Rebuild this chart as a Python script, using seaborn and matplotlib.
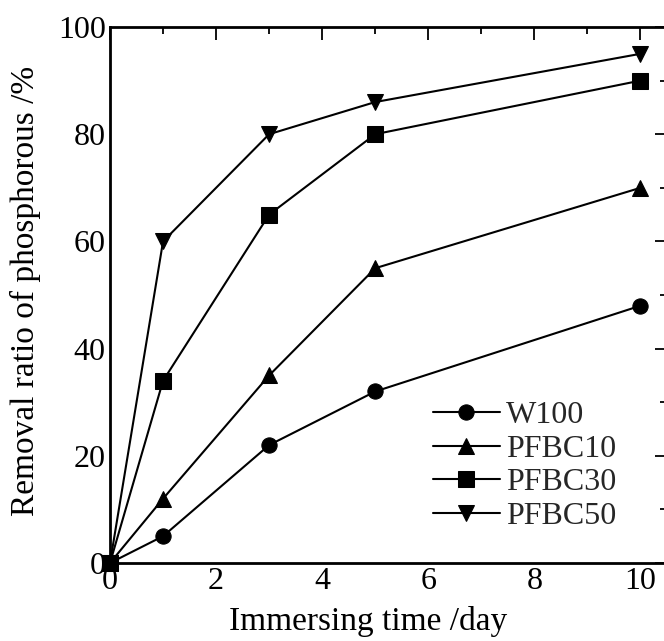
import matplotlib
matplotlib.use("Agg")
import matplotlib.pyplot as plt
import seaborn as sns
import pandas as pd
from matplotlib.ticker import MultipleLocator

days = [0, 1, 3, 5, 10]
series_names = ["W100", "PFBC10", "PFBC30", "PFBC50"]
w100 = [0, 5, 22, 32, 48]
pfbc10 = [0, 12, 35, 55, 70]
pfbc30 = [0, 34, 65, 80, 90]
pfbc50 = [0, 60, 80, 86, 95]

rows = []
for name, vals in zip(series_names, [w100, pfbc10, pfbc30, pfbc50]):
    for d, v in zip(days, vals):
        rows.append({"day": d, "ratio": v, "series": name})
df = pd.DataFrame(rows)

sns.set_theme(style="white")
plt.rcParams["font.family"] = ["Liberation Serif", "DejaVu Serif"]
plt.rcParams["mathtext.fontset"] = "stix"

fig = plt.figure(figsize=(6.64, 6.41), dpi=100)
ax = fig.add_axes([110/664, 1 - 563/641, (667-110)/664, (563-27)/641])

markers = {"W100": "o", "PFBC10": "^", "PFBC30": "s", "PFBC50": "v"}
sns.lineplot(data=df, x="day", y="ratio", hue="series", style="series",
             hue_order=series_names, style_order=series_names,
             palette=["black"] * 4, markers=markers, dashes=False,
             markersize=11, linewidth=1.5, markeredgecolor="black",
             ax=ax, clip_on=False, zorder=3)

ax.set_xlim(0, 10.5)
ax.set_ylim(0, 100)
ax.xaxis.set_major_locator(MultipleLocator(2))
ax.xaxis.set_minor_locator(MultipleLocator(1))
ax.yaxis.set_major_locator(MultipleLocator(20))
ax.yaxis.set_minor_locator(MultipleLocator(10))
ax.tick_params(which="both", direction="in", top=True, right=True,
               colors="black", width=1.3)
ax.tick_params(which="major", length=9, labelsize=23, pad=3)
ax.tick_params(which="minor", length=5)
for s in ax.spines.values():
    s.set_linewidth(2)
    s.set_color("black")

ax.set_xlabel("Immersing time /day", fontsize=24, color="black")
ax.set_ylabel("Removal ratio of phosphorous /%", fontsize=24, color="black")
ax.xaxis.set_label_coords(0.463, -0.080, transform=ax.transAxes)
ax.xaxis.label.set_va("top")
ax.yaxis.set_label_coords(-0.124, 0.507, transform=ax.transAxes)

h, l = ax.get_legend_handles_labels()
leg = ax.legend(h, l, loc="lower right", bbox_to_anchor=(0.932, 0.036),
                frameon=False, fontsize=23, handlelength=2.1,
                handletextpad=0.2, labelspacing=0.13, borderaxespad=0)

fig.savefig("out.png", dpi=100)
